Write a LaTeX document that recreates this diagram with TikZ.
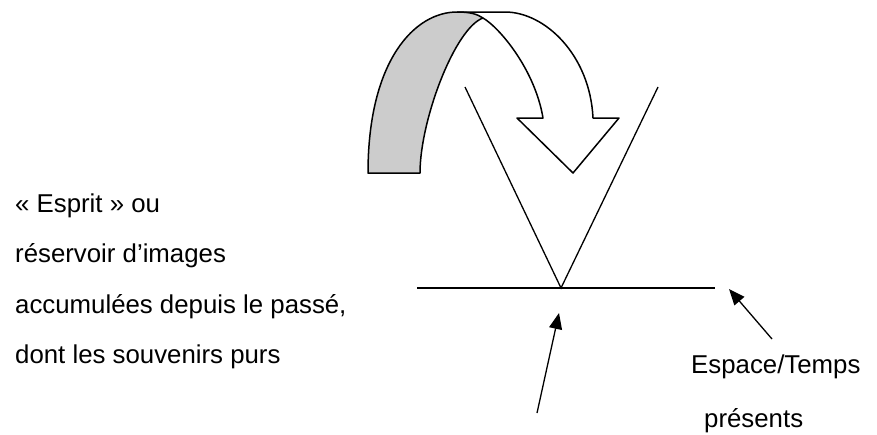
\documentclass[tikz,border=0pt]{standalone}
\usepackage{fontspec}
\setmainfont{Liberation Sans}
\usetikzlibrary{arrows.meta}
\begin{document}
\begin{tikzpicture}[x=1pt,y=-1pt,
  band/.style={draw=black,line width=1.5pt,line join=round},
  thin/.style={draw=black,line width=1.3pt},
  ptr/.style={draw=black,line width=1.3pt,-{Triangle[length=16pt,width=13pt]}},
  lbl/.style={anchor=base west,inner sep=0pt,font=\fontsize{25.8}{30}\selectfont}]
\useasboundingbox (0,0) rectangle (877,434);
% grey back of the ribbon
\fill[gray!40] (368,173) .. controls (368,60) and (415,12) .. (457,12)
  .. controls (470,12) and (477,14) .. (483,18)
  .. controls (455,28) and (420,120) .. (420,173) -- cycle;
% ribbon outline with arrow head
\draw[band] (368,173) .. controls (368,60) and (415,12) .. (457,12)
  -- (505,12) .. controls (545,12) and (590,55) .. (593,118)
  -- (619,118) -- (573,173) -- (517,118) -- (543,118)
  .. controls (535,70) and (500,28) .. (483,18)
  .. controls (455,28) and (420,120) .. (420,173) -- cycle;
\draw[band] (457,12) .. controls (470,12) and (477,14) .. (483,18);
% V and line
\coordinate (vl) at (465,87);
\coordinate (vr) at (658,87);
\coordinate (v) at (561,288);
\coordinate (hl) at (417,288);
\coordinate (hr) at (715,288);
\draw[thin] (vl) -- (v) -- (vr);
\draw[thin] (hl) -- (hr);
% labels
\node[lbl] (t1) at (15,212) {« Esprit » ou};
\node[lbl] (t2) at (15,262) {réservoir d’images};
\node[lbl] (t3) at (15,313) {accumulées depuis le passé,};
\node[lbl] (t4) at (15,363) {dont les souvenirs purs};
\node[lbl] (et) at (691,373) {Espace/Temps};
\node[lbl] (pr) at (704,427) {présents};
% pointers
\coordinate (a1) at (537,413);
\coordinate (a1t) at (559,313);
\coordinate (a2) at (772,339);
\coordinate (a2t) at (729,289);
\draw[ptr] (a1) -- (a1t);
\draw[ptr] (a2) -- (a2t);
\end{tikzpicture}
\end{document}
